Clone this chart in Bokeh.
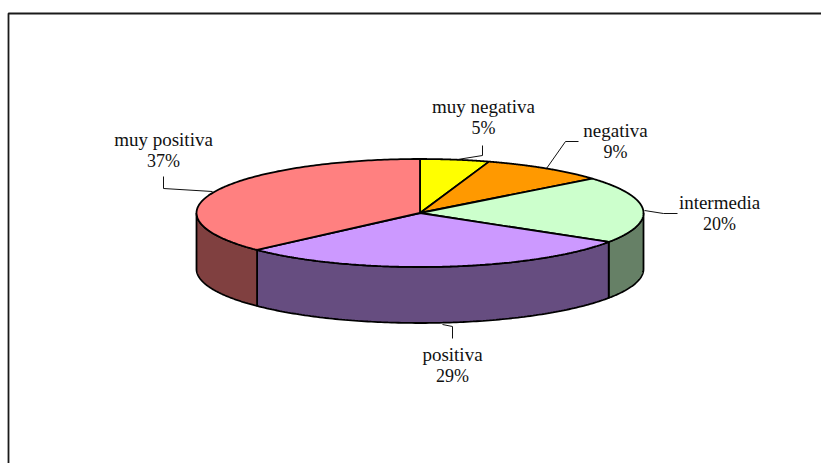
import numpy as np
from bokeh.plotting import figure
from bokeh.models import ColumnDataSource, Range1d
from bokeh.core.properties import value
from bokeh.embed import file_html
from bokeh.resources import INLINE

categories = ["muy negativa", "negativa", "intermedia", "positiva", "muy positiva"]
percents = [5, 9, 20, 29, 37]
top_colors = ["#FFFF00", "#FF9900", "#CCFFCC", "#CC99FF", "#FF8080"]
side_colors = ["#808000", "#804D00", "#668066", "#664D80", "#804040"]

W, H = 821, 463
CX, CY, RX, RY, DEPTH = 419.5, 212.5, 223.5, 54.0, 56.0
FONT = "Liberation Serif"

label_pos = [(483, 106), (615, 130), (719, 202), (452, 354), (163, 139)]
leaders = [
    [(457, 159), (482, 155), (482, 145)],
    [(546, 168), (565, 141), (578, 141)],
    [(644, 210), (663, 213), (677, 213)],
    [(442, 324), (452, 326), (452, 338)],
    [(212, 191), (163, 188), (163, 176)],
]

p = figure(width=W, height=H, output_backend="svg", toolbar_location=None,
           x_range=Range1d(0, W), y_range=Range1d(H, 0),
           min_border=0, min_border_left=0, min_border_right=0,
           min_border_top=0, min_border_bottom=0)
p.axis.visible = False
p.grid.visible = False
p.outline_line_color = None
p.background_fill_color = "white"
p.border_fill_color = "white"

# outer frame of the chart: left and top edges only are in view
p.line([8, 8, W], [H, 13, 13], line_color="#1a1a1a", line_width=1.8)

def ell(t):
    t = np.asarray(t, dtype=float)
    return CX + RX * np.sin(t), CY - RY * np.cos(t)

fractions = np.array(percents, dtype=float) / sum(percents)
edges = np.concatenate([[0.0], np.cumsum(fractions)]) * 2 * np.pi

for a, b, c in zip(edges[:-1], edges[1:], side_colors):
    lo, hi = max(a, np.pi / 2), min(b, 3 * np.pi / 2)
    if hi <= lo:
        continue
    t = np.linspace(lo, hi, 120)
    x, y = ell(t)
    xs = np.concatenate([x, x[::-1]])
    ys = np.concatenate([y, y[::-1] + DEPTH])
    p.patch(xs, ys, fill_color=c, line_color="#000000", line_width=1.8)

for a, b, c in zip(edges[:-1], edges[1:], top_colors):
    t = np.linspace(a, b, 160)
    x, y = ell(t)
    xs = np.concatenate([[CX], x])
    ys = np.concatenate([[CY], y])
    p.patch(xs, ys, fill_color=c, line_color="#000000", line_width=1.8)

for pts in leaders:
    p.line([q[0] for q in pts], [q[1] for q in pts], line_color="#111111", line_width=1)

src = ColumnDataSource(dict(
    x=[q[0] for q in label_pos],
    y=[q[1] for q in label_pos],
    name=categories,
    pct=[f"{v}%" for v in percents],
    y2=[q[1] + 21 for q in label_pos],
))
p.text("x", "y", text="name", source=src, text_font=value(FONT), text_font_size="19px",
       text_align="center", text_baseline="middle", text_color="#111111")
p.text("x", "y2", text="pct", source=src, text_font=value(FONT), text_font_size="18px",
       text_align="center", text_baseline="middle", text_color="#111111")

open("out.html", "w").write(file_html(p, INLINE))
